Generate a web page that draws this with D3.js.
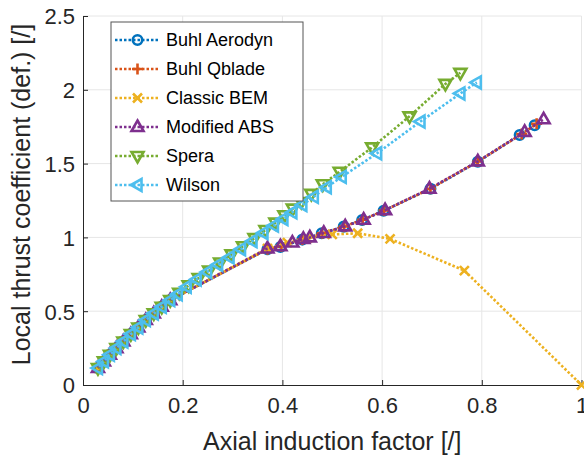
<!DOCTYPE html>
<html>
<head>
<meta charset="utf-8">
<script src="https://cdn.jsdelivr.net/npm/d3@7"></script>
<style>
  body { margin: 0; background: #fff; }
  svg { display: block; font-family: "Liberation Sans", Arial, sans-serif; }
  .grid line { stroke: #e6e6e6; stroke-width: 1; }
  .tick-label { fill: #262626; font-size: 22px; }
  .axis-label { fill: #262626; font-size: 25px; }
  .legend-label { fill: #000; font-size: 18px; }
</style>
</head>
<body>
<div id="chart"></div>
<script>
// values
const buhlAeroA = [0.03, 0.042, 0.054, 0.067, 0.081, 0.096, 0.111, 0.126, 0.142, 0.158, 0.175, 0.37, 0.396, 0.44, 0.479, 0.523, 0.56, 0.603, 0.697, 0.792, 0.876, 0.906];
const buhlAeroC = [0.115, 0.16, 0.205, 0.25, 0.295, 0.345, 0.39, 0.44, 0.485, 0.53, 0.575, 0.92, 0.935, 0.985, 1.028, 1.073, 1.118, 1.18, 1.33, 1.513, 1.694, 1.76];

const buhlQbA = [0.03, 0.042, 0.054, 0.067, 0.081, 0.096, 0.111, 0.126, 0.142, 0.158, 0.175, 0.37, 0.398, 0.44, 0.48, 0.524, 0.561, 0.604, 0.697, 0.792, 0.88, 0.91];
const buhlQbC = [0.115, 0.16, 0.205, 0.25, 0.295, 0.345, 0.39, 0.44, 0.485, 0.53, 0.575, 0.92, 0.94, 0.985, 1.028, 1.074, 1.12, 1.182, 1.33, 1.514, 1.7, 1.77];

const classicA = [0.03, 0.042, 0.054, 0.067, 0.081, 0.096, 0.111, 0.126, 0.142, 0.158, 0.175, 0.37, 0.41, 0.45, 0.5, 0.551, 0.616, 0.765, 1.0];
const classicC = [0.115, 0.16, 0.205, 0.25, 0.295, 0.345, 0.39, 0.44, 0.485, 0.53, 0.575, 0.925, 0.965, 0.995, 1.02, 1.028, 0.99, 0.775, 0.0];

const modAbsA = [0.03, 0.042, 0.054, 0.067, 0.081, 0.096, 0.111, 0.126, 0.142, 0.158, 0.175, 0.37, 0.396, 0.42, 0.442, 0.455, 0.483, 0.526, 0.563, 0.606, 0.695, 0.792, 0.886, 0.924];
const modAbsC = [0.115, 0.16, 0.205, 0.25, 0.295, 0.345, 0.39, 0.44, 0.485, 0.53, 0.575, 0.925, 0.94, 0.965, 0.99, 1.0, 1.03, 1.075, 1.12, 1.185, 1.33, 1.515, 1.715, 1.8];

const speraA = [0.03, 0.042, 0.054, 0.067, 0.081, 0.096, 0.111, 0.126, 0.142, 0.158, 0.175, 0.193, 0.212, 0.232, 0.253, 0.275, 0.298, 0.321, 0.344, 0.366, 0.386, 0.404, 0.421, 0.438, 0.458, 0.481, 0.515, 0.58, 0.655, 0.727, 0.757];
const speraC = [0.115, 0.16, 0.205, 0.25, 0.295, 0.345, 0.39, 0.44, 0.485, 0.53, 0.575, 0.625, 0.675, 0.725, 0.775, 0.83, 0.885, 0.94, 0.995, 1.05, 1.1, 1.15, 1.195, 1.24, 1.295, 1.36, 1.445, 1.61, 1.82, 2.04, 2.115];

const wilsonA = [0.03, 0.042, 0.054, 0.067, 0.081, 0.096, 0.111, 0.126, 0.142, 0.158, 0.175, 0.19, 0.208, 0.228, 0.249, 0.271, 0.294, 0.317, 0.34, 0.362, 0.383, 0.402, 0.42, 0.44, 0.463, 0.489, 0.519, 0.59, 0.677, 0.757, 0.79];
const wilsonC = [0.115, 0.16, 0.205, 0.25, 0.295, 0.345, 0.39, 0.44, 0.485, 0.53, 0.575, 0.615, 0.665, 0.715, 0.765, 0.815, 0.865, 0.92, 0.975, 1.03, 1.08, 1.125, 1.17, 1.22, 1.275, 1.34, 1.41, 1.57, 1.785, 1.975, 2.05];

const seriesNames = ['Buhl Aerodyn', 'Buhl Qblade', 'Classic BEM', 'Modified ABS', 'Spera', 'Wilson'];
const xTicks = [0, 0.2, 0.4, 0.6, 0.8, 1];
const yTicks = [0, 0.5, 1, 1.5, 2, 2.5];
const xTickLabels = ['0', '0.2', '0.4', '0.6', '0.8', '1'];
const yTickLabels = ['0', '0.5', '1', '1.5', '2', '2.5'];

const colors = ['#0072BD', '#D95319', '#EDB120', '#7E2F8E', '#77AC30', '#4DBEEE'];
const markers = ['circle', 'plus', 'cross', 'up', 'down', 'left'];

const series = [
  [buhlAeroA, buhlAeroC],
  [buhlQbA, buhlQbC],
  [classicA, classicC],
  [modAbsA, modAbsC],
  [speraA, speraC],
  [wilsonA, wilsonC],
].map(([a, c], i) => ({
  name: seriesNames[i],
  color: colors[i],
  marker: markers[i],
  points: a.map((v, j) => [v, c[j]]),
}));

const width = 584;
const height = 463;
const plot = { left: 83, right: 581.5, top: 16, bottom: 385 };

const x = d3.scaleLinear().domain([0, 1]).range([plot.left, plot.right]);
const y = d3.scaleLinear().domain([0, 2.5]).range([plot.bottom, plot.top]);

const svg = d3.select('#chart')
  .append('svg')
  .attr('width', width)
  .attr('height', height);

// grid
const grid = svg.append('g').attr('class', 'grid');
grid.selectAll('.gx')
  .data(xTicks.slice(1))
  .join('line')
    .attr('x1', d => x(d))
    .attr('x2', d => x(d))
    .attr('y1', plot.top)
    .attr('y2', plot.bottom);
grid.selectAll('.gy')
  .data(yTicks.slice(1))
  .join('line')
    .attr('class', 'gy')
    .attr('x1', plot.left)
    .attr('x2', plot.right)
    .attr('y1', d => y(d))
    .attr('y2', d => y(d));

// axes (MATLAB style: inward ticks, no end caps)
const xAxis = d3.axisBottom(x)
  .tickValues(xTicks)
  .tickSizeInner(-5)
  .tickSizeOuter(0)
  .tickFormat((d, i) => xTickLabels[i]);
const yAxis = d3.axisLeft(y)
  .tickValues(yTicks)
  .tickSizeInner(-5)
  .tickSizeOuter(0)
  .tickFormat((d, i) => yTickLabels[i]);

const gx = svg.append('g')
  .attr('transform', `translate(0,${plot.bottom})`)
  .call(xAxis);
const gy = svg.append('g')
  .attr('transform', `translate(${plot.left},0)`)
  .call(yAxis);

[gx, gy].forEach(g => {
  g.select('.domain').attr('stroke', '#262626').attr('stroke-width', 1);
  g.selectAll('.tick line').attr('stroke', '#262626');
  g.selectAll('.tick text')
    .attr('class', 'tick-label')
    .attr('font-family', null)
    .attr('font-size', null);
});
gx.selectAll('.tick text').attr('y', 12).attr('dy', '0.71em');
gy.selectAll('.tick text').attr('x', -8).attr('dy', '0.36em');

svg.append('text')
  .attr('class', 'axis-label')
  .attr('text-anchor', 'middle')
  .attr('x', (plot.left + plot.right) / 2)
  .attr('y', 450)
  .text('Axial induction factor [/]');

svg.append('text')
  .attr('class', 'axis-label')
  .attr('text-anchor', 'middle')
  .attr('transform', `translate(30,${(plot.top + plot.bottom) / 2 - 6}) rotate(-90)`)
  .text('Local thrust coefficient (def.) [/]');

// marker shapes
function markerPath(type) {
  switch (type) {
    case 'circle': return d3.symbol(d3.symbolCircle, 70)();
    case 'plus': return 'M-5.5,0H5.5M0,-5.5V5.5';
    case 'cross': return 'M-4.5,-4.5L4.5,4.5M-4.5,4.5L4.5,-4.5';
    case 'up': return 'M0,-6.5L6,4L-6,4Z';
    case 'down': return 'M0,6.5L6,-4L-6,-4Z';
    case 'left': return 'M-6.5,0L4,-6L4,6Z';
    default: return '';
  }
}

const line = d3.line()
  .x(d => x(d[0]))
  .y(d => y(d[1]));

const marks = svg.append('g');

series.forEach((s, i) => {
  const g = marks.append('g');
  g.append('path')
    .datum(s.points)
    .attr('fill', 'none')
    .attr('stroke', s.color)
    .attr('stroke-width', 2.6)
    .attr('stroke-dasharray', '2.5,2')
    .attr('stroke-dashoffset', i * 1.5)
    .attr('d', line);
  g.selectAll('path.mk')
    .data(s.points)
    .join('path')
      .attr('class', 'mk')
      .attr('transform', d => `translate(${x(d[0])},${y(d[1])})`)
      .attr('d', markerPath(s.marker))
      .attr('fill', 'none')
      .attr('stroke', s.color)
      .attr('stroke-width', 2.6);
});

// legend
const legend = svg.append('g');
legend.append('rect')
  .attr('x', 111)
  .attr('y', 22)
  .attr('width', 192)
  .attr('height', 179)
  .attr('fill', '#fff')
  .attr('stroke', '#555')
  .attr('stroke-width', 1);

const rows = legend.selectAll('g.row')
  .data(series)
  .join('g')
    .attr('class', 'row')
    .attr('transform', (d, i) => `translate(0,${40 + i * 29})`);

rows.append('line')
  .attr('x1', 115)
  .attr('x2', 160)
  .attr('stroke', d => d.color)
  .attr('stroke-width', 2.6)
  .attr('stroke-dasharray', '2.5,2');

rows.append('path')
  .attr('transform', 'translate(137.5,0)')
  .attr('d', d => markerPath(d.marker))
  .attr('fill', 'none')
  .attr('stroke', d => d.color)
  .attr('stroke-width', 2.6);

rows.append('text')
  .attr('class', 'legend-label')
  .attr('x', 166)
  .attr('dy', '0.36em')
  .text(d => d.name);
</script>
</body>
</html>
